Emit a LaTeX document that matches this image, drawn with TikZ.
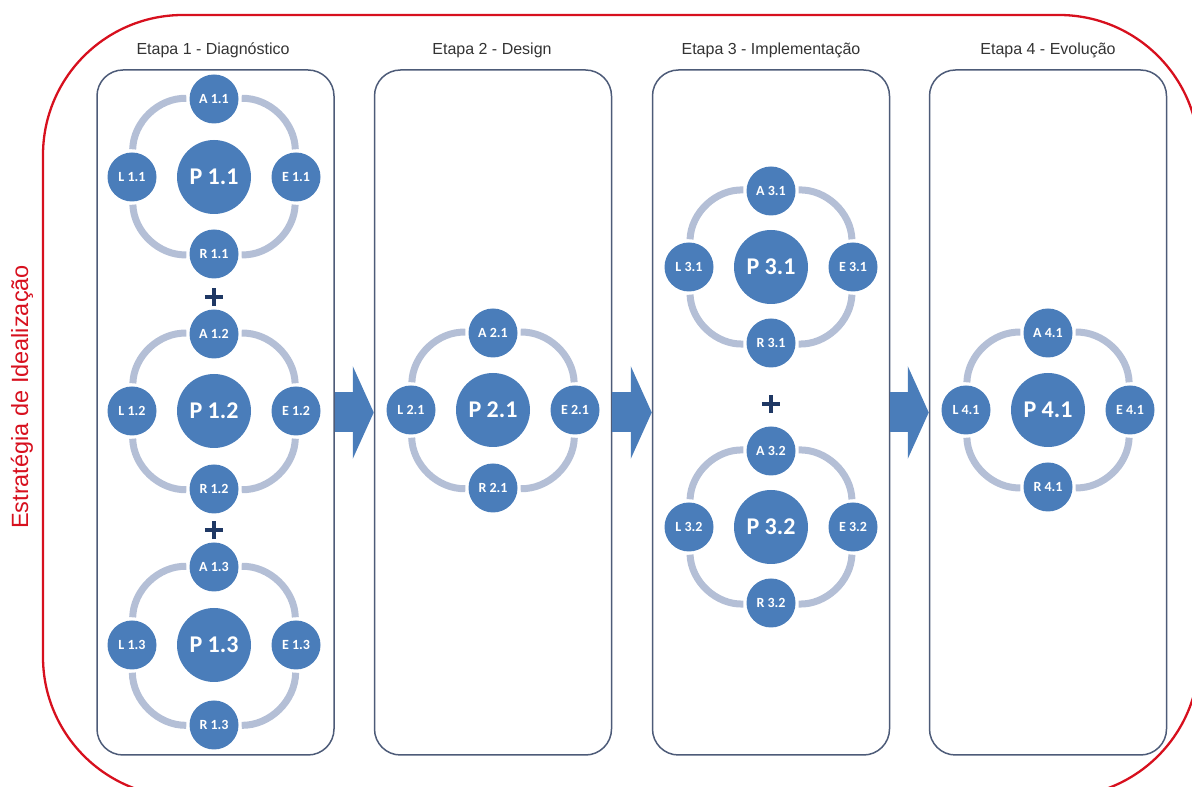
\documentclass[tikz,border=0pt]{standalone}
\usepackage{fontspec}
\setmainfont{Liberation Sans}
\newfontfamily\calibri{Carlito}
\usepackage{tikz}
\usetikzlibrary{arrows.meta}
\usetikzlibrary{shapes.misc}

\definecolor{circleblue}{HTML}{4A7DBA}
\definecolor{ringgray}{HTML}{B4BFD6}
\definecolor{boxline}{HTML}{4D5B78}
\definecolor{framered}{HTML}{D7101E}
\definecolor{plusnavy}{HTML}{1F3864}
\definecolor{titlegray}{HTML}{333333}

\begin{document}
\begin{tikzpicture}[
            x=1pt,y=1pt,
            small node/.style={circle,fill=circleblue,text=white,inner sep=0pt,minimum size=49pt,
                font=\calibri\bfseries\fontsize{14}{16}\selectfont},
            big node/.style={circle,fill=circleblue,text=white,inner sep=0pt,minimum size=74pt,
                font=\calibri\bfseries\fontsize{24}{27}\selectfont},
            ring line/.style={draw=ringgray,line width=7pt,bend right=45,shorten <=3pt,shorten >=3pt},
            stage box/.style={draw=boxline,line width=1.5pt,rounded corners=26pt,minimum width=237pt,minimum height=685pt},
            stage arrow/.style={draw=circleblue,line width=40pt,-{Triangle[length=21pt,width=92pt]}},
            title text/.style={text=titlegray,font=\fontsize{16}{18}\selectfont},
            mais/.style={cross out,draw=plusnavy,line width=4.5pt,minimum size=8.5pt,inner sep=0pt,rotate=45},
            ]

            \useasboundingbox (0,0) rectangle (1192,787);
            \clip (0,0) rectangle (1192,787);

            % outer frame
            \draw[framered,line width=2.3pt,rounded corners=140pt] (43,-10) rectangle (1199,772);
            \node[rotate=90,text=framered,font=\fontsize{23.5}{26}\selectfont] (estrategia) at (22,390) {Estratégia de Idealização};

            % stages
            \node[stage box] (etapa1) at (215.5,374.5) {};
            \node[stage box] (etapa2) at (493,374.5) {};
            \node[stage box] (etapa3) at (771,374.5) {};
            \node[stage box] (etapa4) at (1048,374.5) {};

            \node[title text] (t1) at (213,737) {Etapa 1 - Diagnóstico};
            \node[title text] (t2) at (492,737) {Etapa 2 - Design};
            \node[title text] (t3) at (771,737) {Etapa 3 - Implementação};
            \node[title text] (t4) at (1048,737) {Etapa 4 - Evolução};

            \draw[stage arrow] (etapa1) -- (etapa2);
            \draw[stage arrow] (etapa2) -- (etapa3);
            \draw[stage arrow] (etapa3) -- (etapa4);

            % stage 1
            \node[big node] (p11) at (214,610) {P 1.1};
            \node[small node] (a11) at (214,688) {A 1.1};
            \node[small node] (l11) at (132,610) {L 1.1};
            \node[small node] (r11) at (214,533) {R 1.1};
            \node[small node] (e11) at (296,610) {E 1.1};
            \draw[ring line] (a11) edge (l11) (l11) edge (r11) (r11) edge (e11) (e11) edge (a11);

            \node[mais] (mais1) at (214,490) {};

            \node[big node] (p12) at (214,376) {P 1.2};
            \node[small node] (a12) at (214,453) {A 1.2};
            \node[small node] (l12) at (132,376) {L 1.2};
            \node[small node] (r12) at (214,298) {R 1.2};
            \node[small node] (e12) at (296,376) {E 1.2};
            \draw[ring line] (a12) edge (l12) (l12) edge (r12) (r12) edge (e12) (e12) edge (a12);

            \node[mais] (mais2) at (214,257) {};

            \node[big node] (p13) at (214,142) {P 1.3};
            \node[small node] (a13) at (214,220) {A 1.3};
            \node[small node] (l13) at (132,142) {L 1.3};
            \node[small node] (r13) at (214,62) {R 1.3};
            \node[small node] (e13) at (296,142) {E 1.3};
            \draw[ring line] (a13) edge (l13) (l13) edge (r13) (r13) edge (e13) (e13) edge (a13);

            % stage 2
            \node[big node] (p21) at (493,377) {P 2.1};
            \node[small node] (a21) at (493,454) {A 2.1};
            \node[small node] (l21) at (411,377) {L 2.1};
            \node[small node] (r21) at (493,299) {R 2.1};
            \node[small node] (e21) at (575,377) {E 2.1};
            \draw[ring line] (a21) edge (l21) (l21) edge (r21) (r21) edge (e21) (e21) edge (a21);

            % stage 3
            \node[big node] (p31) at (771,520) {P 3.1};
            \node[small node] (a31) at (771,596) {A 3.1};
            \node[small node] (l31) at (689,520) {L 3.1};
            \node[small node] (r31) at (771,444) {R 3.1};
            \node[small node] (e31) at (853,520) {E 3.1};
            \draw[ring line] (a31) edge (l31) (l31) edge (r31) (r31) edge (e31) (e31) edge (a31);

            \node[mais] (mais3) at (771,383) {};

            \node[big node] (p32) at (771,260) {P 3.2};
            \node[small node] (a32) at (771,336) {A 3.2};
            \node[small node] (l32) at (689,260) {L 3.2};
            \node[small node] (r32) at (771,184) {R 3.2};
            \node[small node] (e32) at (853,260) {E 3.2};
            \draw[ring line] (a32) edge (l32) (l32) edge (r32) (r32) edge (e32) (e32) edge (a32);

            % stage 4
            \node[big node] (p41) at (1048,377) {P 4.1};
            \node[small node] (a41) at (1048,454) {A 4.1};
            \node[small node] (l41) at (966,377) {L 4.1};
            \node[small node] (r41) at (1048,300) {R 4.1};
            \node[small node] (e41) at (1130,377) {E 4.1};
            \draw[ring line] (a41) edge (l41) (l41) edge (r41) (r41) edge (e41) (e41) edge (a41);
        \end{tikzpicture}
\end{document}
